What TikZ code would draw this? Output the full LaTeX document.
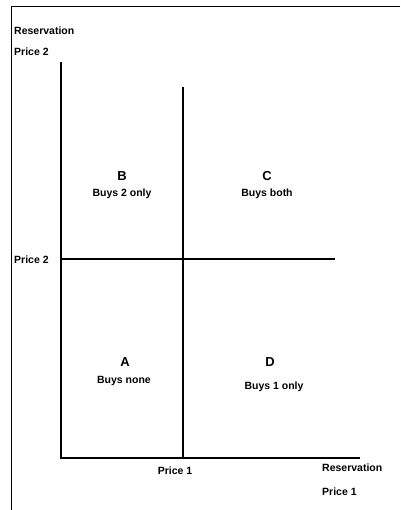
\documentclass[tikz,border=0pt]{standalone}
\usepackage{fontspec}
\setmainfont{Liberation Sans}
\begin{document}
\begin{tikzpicture}[x=1pt,y=-1pt,
  lbl/.style={font=\bfseries\fontsize{10.5}{12}\selectfont, inner sep=0pt},
  big/.style={font=\bfseries\fontsize{13}{15}\selectfont, inner sep=0pt},
  ln/.style={line width=1.1pt}]
\useasboundingbox (0,0) rectangle (400,510);
% frame
\coordinate (tl) at (11,7);
\coordinate (tr) at (400,7);
\coordinate (bl) at (11,510);
\draw[line width=1pt] (tr) -- (tl) -- (bl);
% axes
\coordinate (o) at (61,458);
\coordinate (ytop) at (61,62);
\coordinate (xend) at (360,458);
\draw[ln] (ytop) -- (o) -- (xend);
\coordinate (p1top) at (183,87);
\coordinate (p1bot) at (183,458);
\draw[ln] (p1top) -- (p1bot);
\coordinate (p2left) at (61,259);
\coordinate (p2right) at (335,259);
\draw[ln] (p2left) -- (p2right);
% axis labels
\node[lbl, anchor=west] (r2) at (14,31) {Reservation};
\node[lbl, anchor=west] (r2b) at (14,52) {Price 2};
\node[lbl, anchor=west] (p2) at (14,260) {Price 2};
\node[lbl] (p1) at (175,471) {Price 1};
\node[lbl, anchor=west] (r1) at (322,468) {Reservation};
\node[lbl, anchor=west] (r1b) at (322,492) {Price 1};
% regions
\node[big] (B) at (122,176) {B};
\node[lbl] (Bt) at (122,194) {Buys 2 only};
\node[big] (C) at (267,176) {C};
\node[lbl] (Ct) at (267,194) {Buys both};
\node[big] (A) at (125,362) {A};
\node[lbl] (At) at (124,381) {Buys none};
\node[big] (D) at (270,362) {D};
\node[lbl] (Dt) at (274,387) {Buys 1 only};
\end{tikzpicture}
\end{document}
